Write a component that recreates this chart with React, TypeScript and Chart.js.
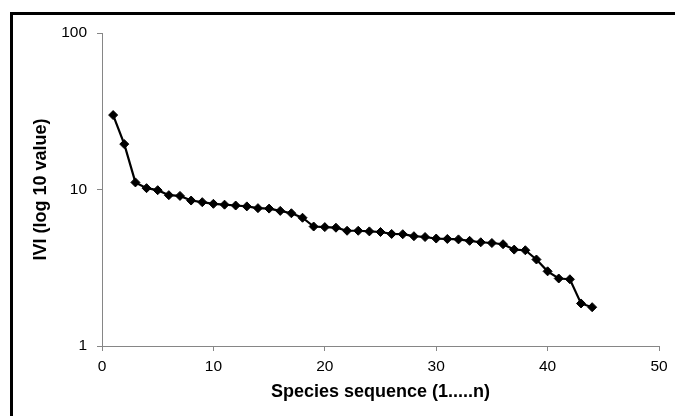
import React, { useEffect, useRef } from "react";
import { Chart, registerables } from "chart.js";

Chart.register(...registerables);

const SPECIES_SEQ = [
  1, 2, 3, 4, 5, 6, 7, 8, 9, 10, 11, 12, 13, 14, 15, 16, 17, 18, 19, 20, 21, 22,
  23, 24, 25, 26, 27, 28, 29, 30, 31, 32, 33, 34, 35, 36, 37, 38, 39, 40, 41, 42,
  43, 44,
];
const IVI_VALUES = [
  29.9, 19.5, 11.1, 10.2, 9.9, 9.2, 9.1, 8.5, 8.3, 8.1, 8.0, 7.9, 7.8, 7.6, 7.55,
  7.3, 7.05, 6.6, 5.8, 5.75, 5.7, 5.45, 5.45, 5.4, 5.35, 5.2, 5.18, 5.03, 4.97,
  4.86, 4.83, 4.8, 4.7, 4.6, 4.55, 4.47, 4.13, 4.09, 3.57, 3.0, 2.7, 2.67, 1.87,
  1.77,
];
const Y_TICKS = [1, 10, 100];
const X_TICKS = [0, 10, 20, 30, 40, 50];
const X_TITLE = "Species sequence (1.....n)";
const Y_TITLE = "IVI (log 10 value)";

const FONT = "'Liberation Sans', Arial, sans-serif";
const AXIS_GRAY = "#868686";

const framePlugin = {
  id: "frame",
  beforeDraw(chart: any) {
    const { ctx, width, height } = chart;
    ctx.save();
    ctx.fillStyle = "#ffffff";
    ctx.fillRect(0, 0, width, height);
    ctx.strokeStyle = "#000000";
    ctx.lineWidth = 3;
    ctx.strokeRect(11.5, 13.5, width + 20, height + 20);
    ctx.restore();
  },
};

export default function App() {
  const ref = useRef<HTMLCanvasElement>(null);

  useEffect(() => {
    if (!ref.current) return;
    const chart = new Chart(ref.current, {
      type: "line",
      data: {
        datasets: [
          {
            data: SPECIES_SEQ.map((x, i) => ({ x, y: IVI_VALUES[i] })),
            borderColor: "#000000",
            backgroundColor: "#000000",
            borderWidth: 2.2,
            pointStyle: "rectRot",
            pointRadius: 4.5,
            pointBackgroundColor: "#000000",
            pointBorderColor: "#000000",
            pointBorderWidth: 1,
            tension: 0,
          },
        ],
      },
      options: {
        responsive: false,
        animation: false,
        layout: { padding: { top: 33, right: 16, left: 0, bottom: 0 } },
        plugins: {
          legend: { display: false },
          tooltip: { enabled: false },
        },
        scales: {
          x: {
            type: "linear",
            min: 0,
            max: 50,
            afterBuildTicks: (scale: any) => {
              scale.ticks = X_TICKS.map((v) => ({ value: v }));
            },
            afterFit: (scale: any) => {
              scale.height = 70;
            },
            grid: {
              display: true,
              drawOnChartArea: false,
              drawTicks: true,
              tickLength: 5,
              color: AXIS_GRAY,
            },
            border: { display: true, color: AXIS_GRAY, width: 1 },
            ticks: {
              color: "#000000",
              font: { family: FONT, size: 15.5 },
              padding: 6,
              maxRotation: 0,
            },
            title: {
              display: true,
              text: X_TITLE,
              color: "#000000",
              font: { family: FONT, size: 18, weight: "bold" },
              padding: { top: 0, bottom: 13 },
            },
          },
          y: {
            type: "logarithmic",
            min: 1,
            max: 100,
            afterBuildTicks: (scale: any) => {
              scale.ticks = Y_TICKS.map((v) => ({ value: v }));
            },
            afterFit: (scale: any) => {
              scale.width = 102;
            },
            grid: {
              display: true,
              drawOnChartArea: false,
              drawTicks: true,
              tickLength: 5,
              color: AXIS_GRAY,
            },
            border: { display: true, color: AXIS_GRAY, width: 1 },
            ticks: {
              color: "#000000",
              font: { family: FONT, size: 15.5 },
              padding: 10,
              callback: (v: any) => String(v),
            },
            title: {
              display: true,
              text: Y_TITLE,
              color: "#000000",
              font: { family: FONT, size: 18, weight: "bold" },
              padding: { top: 30, bottom: 0 },
            },
          },
        },
      },
      plugins: [framePlugin],
    });
    return () => chart.destroy();
  }, []);

  return (
    <div
      style={{
        position: "fixed",
        left: 0,
        top: 0,
        width: 675,
        height: 416,
        overflow: "hidden",
        background: "#fff",
      }}
    >
      <canvas ref={ref} width={675} height={416} style={{ display: "block" }} />
    </div>
  );
}
